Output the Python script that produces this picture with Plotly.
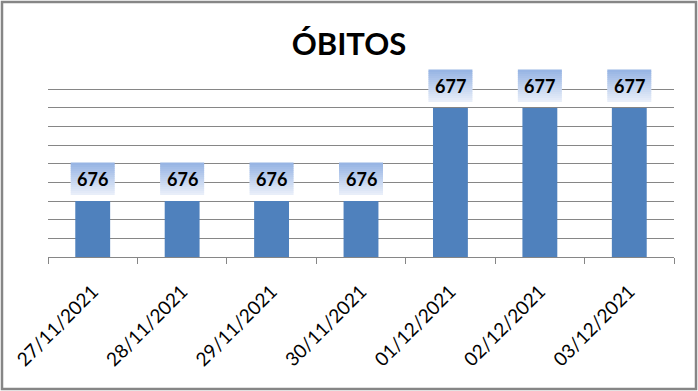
import plotly.graph_objects as go

dates = ["27/11/2021", "28/11/2021", "29/11/2021", "30/11/2021",
         "01/12/2021", "02/12/2021", "03/12/2021"]
obitos = [676, 676, 676, 676, 677, 677, 677]
title_text = "ÓBITOS"
grid_lines = [675.4, 675.6, 675.8, 676.0, 676.2, 676.4, 676.6, 676.8, 677.0, 677.2]

W, H = 698, 391
ML, MR, MT, MB = 48, 24, 60, 134
PW, PH = W - ML - MR, H - MT - MB
Y0 = 675.4
# pixel scale: 0.2 units per 18.67 px
Y1 = 677.2 + (89.3 - MT) * 0.2 / 18.67

BAR = "#4F81BD"
GRID = "#868686"
FONT = "Lato"

fig = go.Figure(go.Bar(x=dates, y=obitos, marker=dict(color=BAR, line=dict(width=0)),
                       hoverinfo="x+y"))

# gradient label boxes (pixel-sized shapes anchored to each bar top)
top_c = (152, 181, 228)
bot_c = (232, 238, 249)
nsteps = 16
box_h = 32
box_w = 44
gap = 6
shapes = []
for cat, val in zip(dates, obitos):
    for k in range(nsteps):
        t = k / (nsteps - 1)
        c = tuple(round(bot_c[j] + (top_c[j] - bot_c[j]) * t) for j in range(3))
        shapes.append(dict(
            type="rect", xref="x", yref="y",
            xsizemode="pixel", ysizemode="pixel",
            xanchor=cat, yanchor=val,
            x0=-box_w / 2, x1=box_w / 2,
            y0=gap + k * box_h / nsteps, y1=gap + (k + 1) * box_h / nsteps + 0.5,
            fillcolor="rgb(%d,%d,%d)" % c, line=dict(width=0), layer="above"))

# outer frame
def px2paper_x(p):
    return (p - ML) / PW

def px2paper_y(p):
    return 1 - (p - MT) / PH

shapes.append(dict(type="rect", xref="paper", yref="paper",
                   x0=px2paper_x(2), x1=px2paper_x(696),
                   y0=px2paper_y(389), y1=px2paper_y(2),
                   line=dict(color="#868686", width=2.5), fillcolor="rgba(0,0,0,0)",
                   layer="above"))

annotations = []
for cat, val in zip(dates, obitos):
    annotations.append(dict(x=cat, y=val, xref="x", yref="y", text=str(val),
                            showarrow=False, yanchor="middle", yshift=gap + box_h / 2,
                            font=dict(family=FONT, size=18, color="black", weight="bold")))

fig.update_layout(
    width=W, height=H,
    margin=dict(l=ML, r=MR, t=MT, b=MB),
    paper_bgcolor="white", plot_bgcolor="white",
    bargap=0.61,
    showlegend=False,
    title=dict(text=title_text, x=0.5, xref="container", xanchor="center",
               y=1 - 44 / H, yref="container", yanchor="middle",
               font=dict(family=FONT, size=31, color="black", weight="bold")),
    xaxis=dict(type="category", tickangle=-45, tickson="boundaries",
               ticks="outside", ticklen=6, tickcolor=GRID, tickwidth=1,
               showline=True, linecolor=GRID, linewidth=1, showgrid=False,
               tickfont=dict(family=FONT, size=19, color="black"),
               ticklabelstandoff=15),
    yaxis=dict(range=[Y0, Y1], tickmode="array", tickvals=grid_lines, showticklabels=False,
               showgrid=True, gridcolor=GRID, gridwidth=1, zeroline=False,
               showline=False, ticks=""),
    shapes=shapes,
    annotations=annotations,
)

fig.write_html("out.html")
